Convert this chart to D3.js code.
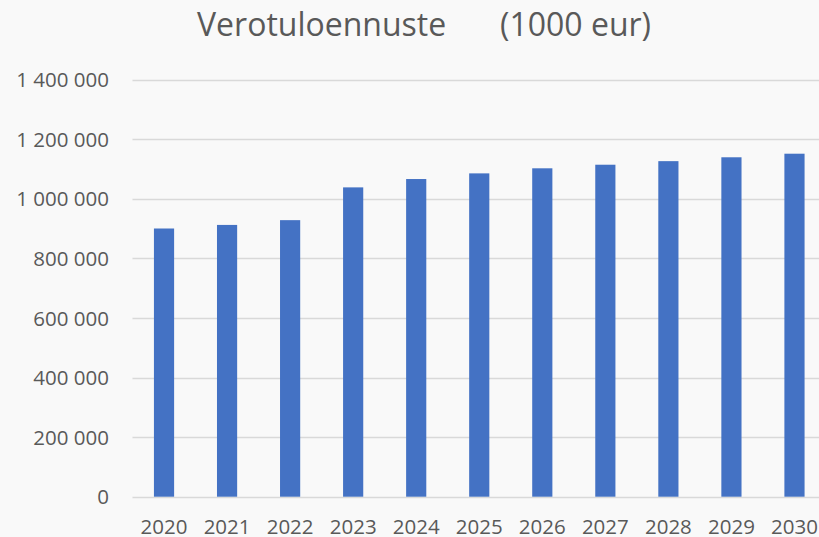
<!DOCTYPE html>
<html><head><meta charset="utf-8">
<script src="https://cdn.jsdelivr.net/npm/d3@7"></script>
<style>
html,body{margin:0;padding:0;background:#f9f9f9;overflow:hidden}
text{font-family:"Open Sans","Noto Sans",sans-serif;fill:#595959}
</style></head>
<body>
<svg id="c" width="819" height="537"></svg>
<script>
const years = ["2020","2021","2022","2023","2024","2025","2026","2027","2028","2029","2030"];
const values = [900000, 912000, 928000, 1038000, 1066000, 1085000, 1102000, 1114000, 1126000, 1139000, 1151000];
const yTicks = [0, 200000, 400000, 600000, 800000, 1000000, 1200000, 1400000];
const titleMain = "Verotuloennuste";
const titleUnit = "(1000 eur)";

const svg = d3.select("#c");
const W = 819, H = 537;
svg.append("rect").attr("width", W).attr("height", H).attr("fill", "#f9f9f9");

const x = d3.scaleBand().domain(years).range([132.5, 826]).paddingInner(0.68).paddingOuter(0.34);
const y = d3.scaleLinear().domain([0, 1400000]).range([496.7, 79.5]);

const fmt = v => d3.format(",")(v).replace(/,/g, " ");
const FF = '"Open Sans","Noto Sans",sans-serif';

// gridlines
svg.append("g").selectAll("line").data(yTicks).join("line")
  .attr("x1", 132.5).attr("x2", W)
  .attr("y1", d => Math.round(y(d)) + 0.5).attr("y2", d => Math.round(y(d)) + 0.5)
  .attr("stroke", "#d9d9d9").attr("stroke-width", 1.3);

// y axis labels
const yAxis = d3.axisLeft(y).tickValues(yTicks).tickFormat(fmt).tickSize(0).tickPadding(0);
const gy = svg.append("g").attr("transform", "translate(109,0)").call(yAxis);
gy.select(".domain").remove();
gy.selectAll("text").attr("font-size", 20.5).attr("fill", "#595959")
  .style("font-family", FF).attr("dy", "0.35em");

// bars
svg.append("g").selectAll("rect").data(years).join("rect")
  .attr("x", d => x(d)).attr("width", x.bandwidth())
  .attr("y", (d, i) => y(values[i]))
  .attr("height", (d, i) => y(0) - y(values[i]))
  .attr("fill", "#4472c4");

// x axis
const xAxis = d3.axisBottom(x).tickSize(0).tickPadding(0);
const gx = svg.append("g").attr("transform", "translate(0,519)").call(xAxis);
gx.select(".domain").remove();
gx.selectAll("text").attr("font-size", 20.5).attr("fill", "#595959")
  .style("font-family", FF).attr("dy", "0.71em");

// title
const t = svg.append("text").attr("y", 36).attr("font-size", 32);
t.append("tspan").attr("x", 197).text(titleMain);
t.append("tspan").attr("x", 500).text(titleUnit);
</script>
</body></html>
